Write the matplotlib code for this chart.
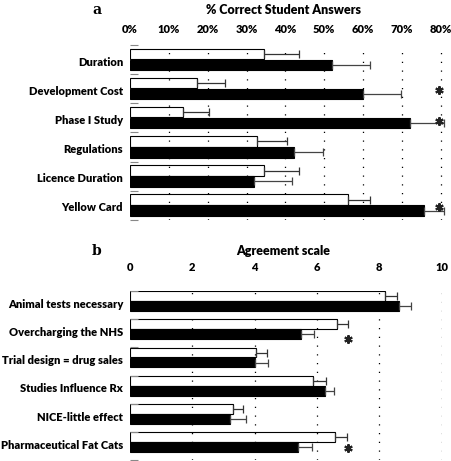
import matplotlib
matplotlib.use('Agg')
import matplotlib.pyplot as plt
import numpy as np

plt.rcParams['font.family'] = ['Lato', 'DejaVu Sans']
plt.rcParams['font.weight'] = 'heavy'

# panel a: % correct student answers
cats_a = ['Duration', 'Development Cost', 'Phase I Study', 'Regulations',
          'Licence Duration', 'Yellow Card']
white_a = [34.5, 17.3, 13.7, 32.8, 34.5, 56.0]
white_a_err = [9.0, 7.1, 6.6, 7.6, 9.0, 5.7]
black_a = [52.0, 60.0, 72.0, 42.1, 32.0, 75.6]
black_a_err = [9.9, 9.9, 8.9, 7.6, 9.7, 5.3]
star_a = [1, 2, 5]

# panel b: agreement scale
cats_b = ['Animal tests necessary', 'Overcharging the NHS', 'Trial design = drug sales',
          'Studies Influence Rx', 'NICE-little effect', 'Pharmaceutical Fat Cats']
white_b = [8.18, 6.63, 4.04, 5.88, 3.31, 6.59]
white_b_err = [0.40, 0.37, 0.36, 0.41, 0.33, 0.36]
black_b = [8.64, 5.49, 4.01, 6.26, 3.21, 5.40]
black_b_err = [0.36, 0.41, 0.43, 0.29, 0.51, 0.45]
star_b = [1, 5]

W, H = 452, 461
fig = plt.figure(figsize=(W / 100, H / 100), dpi=100)


def panel(rect, cats, wv, we, bv, be, stars, xmax, ticks, ticklabels,
          title, letter, title_y, woff, boff, hgt, loff, star_x, star_off, pad):
    l, t, r, b = rect
    ax = fig.add_axes([l / W, 1 - b / H, (r - l) / W, (b - t) / H])
    n = len(cats)
    y = np.arange(n)
    ax.barh(y + woff, wv, height=hgt, color='white', edgecolor='black',
            linewidth=0.8, zorder=1)
    ax.barh(y + boff, bv, height=hgt, color='black', edgecolor='black',
            linewidth=0.8, zorder=3)
    ax.errorbar(np.array(wv) + np.array(we) / 2, y + woff, xerr=np.array(we) / 2,
                fmt='none', ecolor='#333333', elinewidth=0.9, capsize=3, capthick=0.9,
                zorder=4)
    ax.errorbar(np.array(bv) + np.array(be) / 2, y + boff, xerr=np.array(be) / 2,
                fmt='none', ecolor='#444444', elinewidth=0.9, capsize=3, capthick=0.9,
                zorder=4)
    sy = [i + star_off[i] for i in stars]
    ax.plot([star_x] * len(stars), sy, linestyle='none', marker=(6, 2, 0),
            markersize=6, markeredgewidth=1.5, color='#222222', zorder=5)
    for xt in ticks[1:]:
        ax.axvline(xt, color='black', linestyle=(0, (1, 6)), linewidth=0.9, zorder=2)
    ax.set_xlim(0, xmax)
    ax.set_ylim(n, 0)
    ax.xaxis.tick_top()
    ax.set_xticks(ticks)
    ax.set_xticklabels(ticklabels, fontsize=8, fontweight='heavy')
    ax.tick_params(axis='x', length=0, pad=pad)
    ax.set_yticks(np.arange(n + 1))
    ax.set_yticklabels([])
    ax.tick_params(axis='y', which='major', direction='in', length=6,
                   color='#888888', width=0.8)
    ax.set_yticks(y + loff, minor=True)
    ax.set_yticklabels(cats, minor=True, fontsize=8, fontweight='heavy')
    ax.tick_params(axis='y', which='minor', length=0, pad=5)
    for s in ax.spines.values():
        s.set_visible(False)
    fig.text(283 / W, 1 - title_y / H, title, ha='center', va='center',
             fontsize=9, fontweight='heavy')
    fig.text(97 / W, 1 - title_y / H, letter, ha='center', va='center',
             fontsize=10, fontweight='bold', family='DejaVu Serif')
    return ax


panel((130, 45, 444.6, 220), cats_a, white_a, white_a_err, black_a, black_a_err,
      star_a, 81, [0, 10, 20, 30, 40, 50, 60, 70, 80],
      ['0%', '10%', '20%', '30%', '40%', '50%', '60%', '70%', '80%'],
      '% Correct Student Answers', 'a', 10, 0.305, 0.68, 0.36, 0.55, 79.6,
      {1: 0.53, 2: 0.6, 5: 0.55}, 7)

panel((130, 291, 441.7, 460), cats_b, white_b, white_b_err, black_b, black_b_err,
      star_b, 10, [0, 2, 4, 6, 8, 10], ['0', '2', '4', '6', '8', '10'],
      'Agreement scale', 'b', 251, 0.185, 0.54, 0.35, 0.44, 7.0,
      {1: 0.71, 5: 0.58}, 13)

fig.savefig('out.png', dpi=100)
